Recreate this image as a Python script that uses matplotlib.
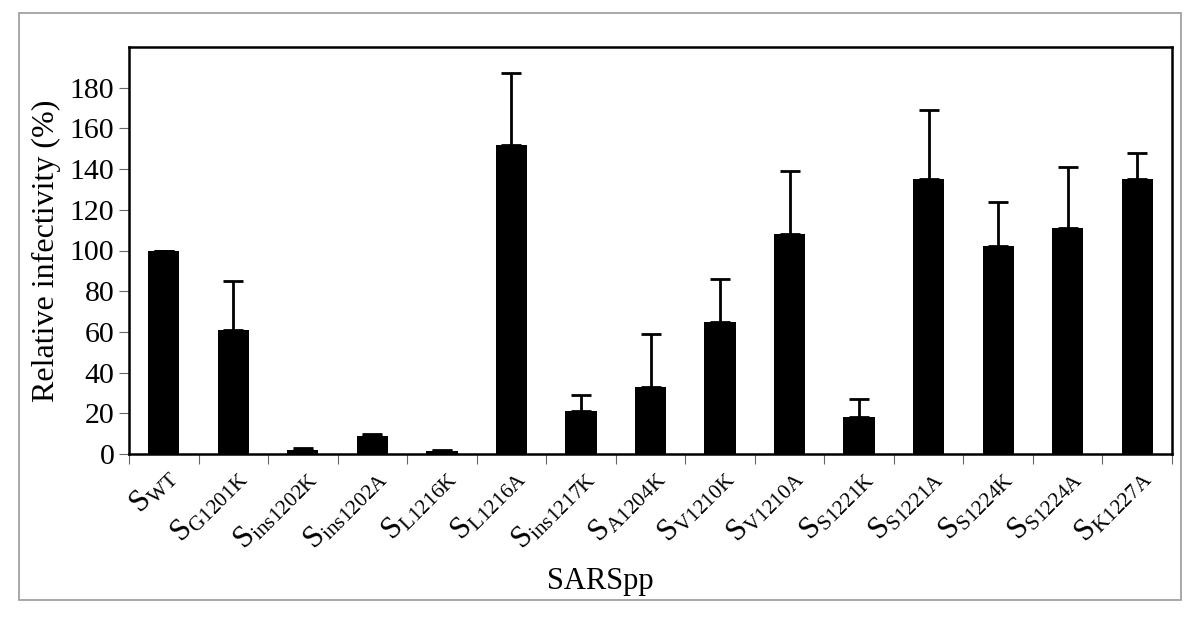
import matplotlib.pyplot as plt
import numpy as np
from matplotlib.patches import Rectangle

plt.rcParams['font.family'] = 'Liberation Serif'
plt.rcParams['mathtext.fontset'] = 'custom'
plt.rcParams['mathtext.rm'] = 'Liberation Serif'
plt.rcParams['mathtext.it'] = 'Liberation Serif'

#------------------------------------------------------------------------------
subs = ['WT', 'G1201K', 'ins1202K', 'ins1202A', 'L1216K', 'L1216A', 'ins1217K',
        'A1204K', 'V1210K', 'V1210A', 'S1221K', 'S1221A', 'S1224K', 'S1224A', 'K1227A']
values = [100, 61, 2, 9, 1.5, 152, 21, 33, 65, 108, 18, 135, 102, 111, 135]
errors = [0, 24, 1, 1, 0.7, 35, 8, 26, 21, 31, 9, 34, 22, 30, 13]
#------------------------------------------------------------------------------

fig = plt.figure(figsize=(12, 6.17), dpi=100)
fig.patches.append(Rectangle((19/1200, 1 - 600/617), 1162/1200, 587/617,
                             transform=fig.transFigure, fill=False,
                             edgecolor='#999999', linewidth=1.2))
ax = fig.add_axes([129/1200, 1 - 454/617, 1043/1200, 407/617])

x = np.arange(len(values))
ax.bar(x, values, width=0.45, color='black')
ax.errorbar(x, values, yerr=[np.zeros(len(errors)), errors], fmt='none',
            ecolor='black', elinewidth=2, capsize=7, capthick=2)

ax.set_xlim(-0.5, len(values) - 0.5)
ax.set_ylim(0, 200)
ax.set_yticks(range(0, 181, 20))
ax.tick_params(axis='y', labelsize=21.5, direction='out', length=7, width=0.8, color='#666666')
ax.set_xticks(np.arange(-0.5, len(values), 1))
ax.set_xticklabels([])
ax.tick_params(axis='x', direction='out', length=7, width=0.8, color='#666666')
for s in ax.spines.values():
    s.set_linewidth(1.8)

labels = ['S$_{\\mathrm{' + s + '}}$' for s in subs]
for i, lab in enumerate(labels):
    ax.text(i + 0.27, -4, lab, rotation=45, ha='right', va='top', fontsize=22,
            transform=ax.transData)

ax.set_ylabel('Relative infectivity (%)', fontsize=23, labelpad=6)
fig.text(0.5, 1 - 596/617, 'SARSpp', ha='center', va='bottom', fontsize=22)

plt.savefig('out.png', dpi=100)
